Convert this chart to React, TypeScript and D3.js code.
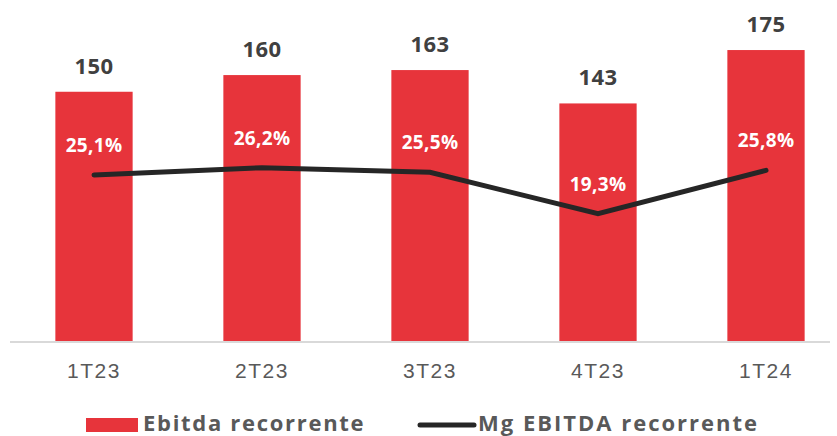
import React, { useEffect, useRef } from 'react';
import * as d3 from 'd3';

// chart data
const categories = ['1T23', '2T23', '3T23', '4T23', '1T24'];
const ebitda = [150, 160, 163, 143, 175];
const margem = [25.1, 26.2, 25.5, 19.3, 25.8];
const margemLabels = ['25,1%', '26,2%', '25,5%', '19,3%', '25,8%'];

const RED = '#E7343B';
const DARK = '#262626';
const FONT = "'Open Sans', 'Liberation Sans', sans-serif";

export default function App() {
  const ref = useRef<SVGSVGElement | null>(null);

  useEffect(() => {
    const width = 837;
    const height = 436;
    const baseY = 342;

    const svg = d3.select(ref.current);
    svg.selectAll('*').remove();
    svg.attr('width', width).attr('height', height);

    const x = d3.scaleBand()
      .domain(categories)
      .range([10, 850])
      .paddingInner(0.54)
      .paddingOuter(0.27);

    const y = d3.scaleLinear().domain([0, 205]).range([baseY, 0]);
    const y2 = d3.scaleLinear().domain([0, 51.4]).range([baseY, 0]);

    // bars
    svg.append('g')
      .selectAll('rect')
      .data(ebitda)
      .join('rect')
      .attr('x', (d, i) => x(categories[i])!)
      .attr('y', d => y(d))
      .attr('width', x.bandwidth())
      .attr('height', d => baseY - y(d))
      .attr('fill', RED);

    // baseline
    svg.append('line')
      .attr('x1', 10).attr('x2', 830)
      .attr('y1', baseY).attr('y2', baseY)
      .attr('stroke', '#d9d9d9').attr('stroke-width', 2);

    // category axis labels
    const xAxis = svg.append('g')
      .attr('transform', `translate(0,${baseY})`)
      .call(d3.axisBottom(x).tickSize(0).tickPadding(21));
    xAxis.select('.domain').remove();
    xAxis.selectAll('text')
      .attr('font-family', "'Liberation Sans', Arial, sans-serif")
      .attr('font-size', 21)
      .attr('letter-spacing', 1.5)
      .attr('fill', '#595959');

    // value labels above bars
    svg.append('g')
      .selectAll('text')
      .data(ebitda)
      .join('text')
      .attr('x', (d, i) => x(categories[i])! + x.bandwidth() / 2)
      .attr('y', d => y(d) - 18)
      .attr('text-anchor', 'middle')
      .attr('font-family', FONT)
      .attr('font-weight', 700)
      .attr('font-size', 22)
      .attr('letter-spacing', 0.5)
      .attr('fill', '#404040')
      .text(d => d);

    // margin line
    const line = d3.line<number>()
      .x((d, i) => x(categories[i])! + x.bandwidth() / 2)
      .y(d => y2(d));

    svg.append('path')
      .datum(margem)
      .attr('d', line)
      .attr('fill', 'none')
      .attr('stroke', DARK)
      .attr('stroke-width', 5)
      .attr('stroke-linecap', 'round')
      .attr('stroke-linejoin', 'miter');

    // margin labels
    svg.append('g')
      .selectAll('text')
      .data(margem)
      .join('text')
      .attr('x', (d, i) => x(categories[i])! + x.bandwidth() / 2)
      .attr('y', d => y2(d) - 23)
      .attr('text-anchor', 'middle')
      .attr('font-family', FONT)
      .attr('font-weight', 700)
      .attr('font-size', 19)
      .attr('letter-spacing', 0.3)
      .attr('fill', '#ffffff')
      .text((d, i) => margemLabels[i]);

    // legend
    const legend = svg.append('g');
    legend.append('rect')
      .attr('x', 86).attr('y', 418)
      .attr('width', 52).attr('height', 14)
      .attr('fill', RED);
    legend.append('text')
      .attr('x', 143).attr('y', 431)
      .attr('font-family', FONT)
      .attr('font-weight', 700)
      .attr('font-size', 22)
      .attr('letter-spacing', 1.7)
      .attr('fill', '#595959')
      .text('Ebitda recorrente');
    legend.append('line')
      .attr('x1', 420).attr('x2', 474)
      .attr('y1', 425).attr('y2', 425)
      .attr('stroke', DARK)
      .attr('stroke-width', 5)
      .attr('stroke-linecap', 'round');
    legend.append('text')
      .attr('x', 478).attr('y', 431)
      .attr('font-family', FONT)
      .attr('font-weight', 700)
      .attr('font-size', 22)
      .attr('letter-spacing', 2)
      .attr('fill', '#595959')
      .text('Mg EBITDA recorrente');
  }, []);

  return (
    <svg ref={ref} style={{ position: 'absolute', left: 0, top: 0 }}></svg>
  );
}
